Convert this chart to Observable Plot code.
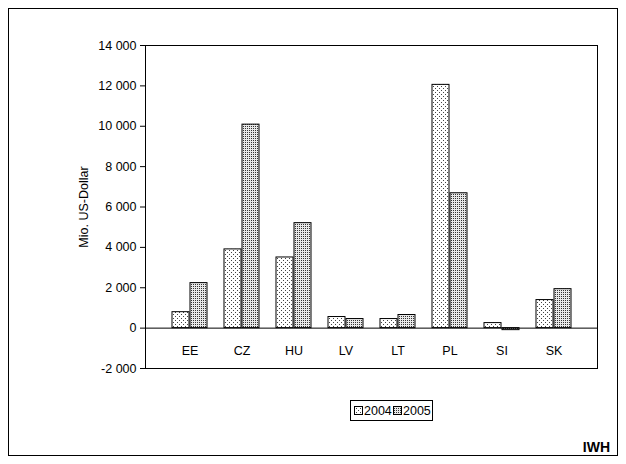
<!DOCTYPE html>
<html><head>
<script src="https://cdn.jsdelivr.net/npm/d3@7"></script>
<script src="https://cdn.jsdelivr.net/npm/@observablehq/plot@0.6"></script>
<style>body{margin:0;background:#fff}#chart{position:relative;width:626px;height:464px}</style>
</head><body><div id="chart"></div>
<script>
const countries = ["EE","CZ","HU","LV","LT","PL","SI","SK"];
const v2004 = [790, 3900, 3500, 550, 450, 12050, 250, 1390];
const v2005 = [2230, 10080, 5200, 450, 650, 6680, -100, 1930];
const yTicks = [-2000, 0, 2000, 4000, 6000, 8000, 10000, 12000, 14000];

const d04 = countries.map((c, i) => ({c, v: v2004[i]}));
const d05 = countries.map((c, i) => ({c, v: v2005[i]}));
const fmt = d => d === 0 ? "0" : (d < 0 ? "-" : "") + d3.format(",")(Math.abs(d)).replace(",", " ");

const chart = Plot.plot({
  width: 626, height: 464,
  marginLeft: 145, marginRight: 29, marginTop: 45, marginBottom: 96,
  style: {fontFamily: "Liberation Sans, Arial, sans-serif", fontSize: "12.5px", color: "black", background: "white"},
  x: {domain: countries, padding: 0.68, axis: null},
  y: {domain: [-2000, 14000], ticks: yTicks, tickFormat: fmt, tickSize: 5, label: "Mio. US-Dollar", labelArrow: "none", labelAnchor: "center", labelOffset: 66},
  marks: [
    Plot.frame({stroke: "black"}),
    Plot.barY(d04, {x: "c", y: "v", dx: -9, fill: "url(#p2004)", stroke: "black", strokeWidth: 1}),
    Plot.barY(d05, {x: "c", y: "v", dx: 9, fill: "url(#p2005)", stroke: "black", strokeWidth: 1}),
    Plot.ruleY([0], {stroke: "black"}),
    Plot.text(countries, {x: d => d, y: 0, dy: 23, text: d => d, fontSize: 12.5})
  ]
});

const svg = d3.select(chart);
const defs = svg.insert("defs", ":first-child");
const p1 = defs.append("pattern").attr("id", "p2004").attr("width", 4).attr("height", 4).attr("patternUnits", "userSpaceOnUse");
p1.append("rect").attr("width", 4).attr("height", 4).attr("fill", "white");
p1.append("rect").attr("x", 0).attr("y", 0).attr("width", 1).attr("height", 1).attr("fill", "#444");
p1.append("rect").attr("x", 2).attr("y", 2).attr("width", 1).attr("height", 1).attr("fill", "#444");
const p2 = defs.append("pattern").attr("id", "p2005").attr("width", 2).attr("height", 2).attr("patternUnits", "userSpaceOnUse");
p2.append("rect").attr("width", 2).attr("height", 2).attr("fill", "#e8e8e8");
p2.append("rect").attr("x", 0).attr("y", 0).attr("width", 1).attr("height", 1).attr("fill", "#333");

svg.append("rect").attr("x", 8.5).attr("y", 8.5).attr("width", 609).attr("height", 447)
  .attr("fill", "none").attr("stroke", "black");
const lg = svg.append("g").attr("font-family", "Liberation Sans, Arial, sans-serif").attr("font-size", 12.5).attr("text-anchor", "start");
lg.append("rect").attr("x", 350.5).attr("y", 400.5).attr("width", 82).attr("height", 20).attr("fill", "white").attr("stroke", "black");
[["2004", "url(#p2004)", 354], ["2005", "url(#p2005)", 393]].forEach(([t, f, x]) => {
  lg.append("rect").attr("x", x + 0.5).attr("y", 406.5).attr("width", 8).attr("height", 8).attr("fill", f).attr("stroke", "black");
  lg.append("text").attr("x", x + 10).attr("y", 415).attr("text-anchor", "start").attr("fill", "black").text(t);
});
svg.append("text").attr("x", 610).attr("y", 452).attr("text-anchor", "end")
  .attr("font-family", "Liberation Sans, Arial, sans-serif").attr("font-weight", "bold").attr("font-size", 14).text("IWH");

document.getElementById("chart").append(chart);
</script></body></html>
